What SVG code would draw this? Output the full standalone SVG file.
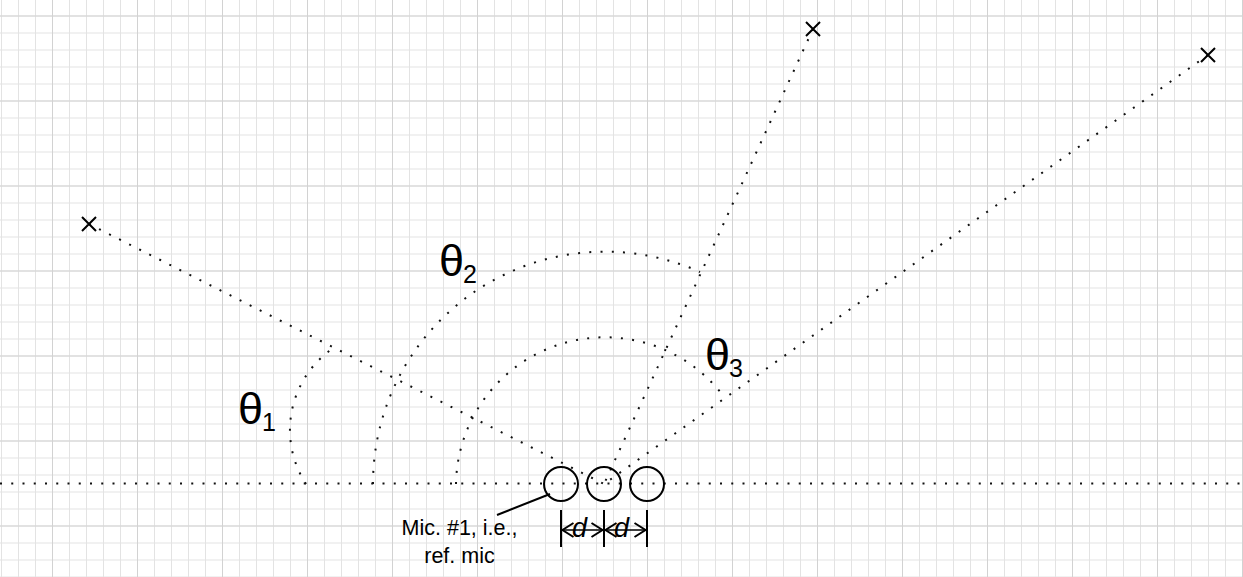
<svg xmlns="http://www.w3.org/2000/svg" width="1243" height="577" viewBox="0 0 1243 577">
<style>
.dot{fill:none;stroke:#111;stroke-width:2;stroke-dasharray:2 9.25}
.solid{fill:none;stroke:#000;stroke-width:2}
.th{font-family:"Liberation Sans",Arial,sans-serif;font-size:45px;fill:#000}
.sub{font-family:"Liberation Sans",Arial,sans-serif;font-size:25px;fill:#000}
.lbl{font-family:"Liberation Sans",Arial,sans-serif;font-size:21.5px;fill:#000;text-anchor:middle}
.dim{font-family:"Liberation Sans",Arial,sans-serif;font-size:27px;font-style:italic;fill:#000}
</style>
<defs>
<pattern id="g1" x="1" y="15.5" width="17" height="17" patternUnits="userSpaceOnUse">
<path d="M0.5 0V17M0 0.5H17" stroke="#e3e3e3" stroke-width="1" fill="none"/>
</pattern>
<pattern id="g2" x="52" y="15.5" width="85" height="85" patternUnits="userSpaceOnUse">
<path d="M0.5 0V85M0 0.5H85" stroke="#d2d2d2" stroke-width="1" fill="none"/>
</pattern>
<marker id="ah" viewBox="0 0 14 18" refX="13" refY="9" markerWidth="14" markerHeight="18" markerUnits="userSpaceOnUse" orient="auto-start-reverse">
<path d="M1.5 2L12.5 9L1.5 16" fill="none" stroke="#000" stroke-width="2"/>
</marker>
</defs>
<g id="grid" shape-rendering="crispEdges">
<rect width="1243" height="577" fill="#fff"/>
<rect width="1243" height="577" fill="url(#g1)"/>
<rect width="1243" height="577" fill="url(#g2)"/>
</g>
<g id="axis">
<path class="dot" d="M0 483.5H1240"/>
</g>
<g id="connectors">
<path class="dot" d="M89 224L604 484"/>
<path class="dot" d="M813 29L604 484"/>
<path class="dot" d="M1208 55L604 484"/>
</g>
<g id="arcs">
<path id="arc1" class="dot" d="M306 484A99 99 0 0 1 332 349"/>
<path id="arc2" class="dot" d="M373 484A232 232 0 0 1 700 272"/>
<path id="arc3" class="dot" d="M456 484A149 149 0 0 1 725 398"/>
</g>
<g id="source1"><path class="solid" d="M82 217L96 231M96 217L82 231"/></g>
<g id="source2"><path class="solid" d="M806 22L820 36M820 22L806 36"/></g>
<g id="source3"><path class="solid" d="M1201 48L1215 62M1215 48L1201 62"/></g>
<g id="mic1"><circle class="solid" cx="561" cy="484" r="17"/></g>
<g id="mic2"><circle class="solid" cx="604" cy="484" r="17"/></g>
<g id="mic3"><circle class="solid" cx="647" cy="484" r="17"/></g>
<g id="labels">
<text class="th" x="238" y="424">θ</text><text class="sub" x="262" y="431">1</text>
<text class="th" x="439" y="276">θ</text><text class="sub" x="463" y="283">2</text>
<text class="th" x="705" y="370">θ</text><text class="sub" x="729" y="377">3</text>
</g>
<g id="mic-label">
<path class="solid" d="M497 515L550 494"/>
<text class="lbl" x="459.5" y="535">Mic. #1, i.e.,</text>
<text class="lbl" x="459.5" y="563">ref. mic</text>
</g>
<g id="dimension">
<path class="solid" d="M561 510V547M604 510V547M647 510V547"/>
<path d="M562 530H603" fill="none" stroke="#000" stroke-width="1.5" marker-start="url(#ah)" marker-end="url(#ah)"/>
<path d="M605 530H646" fill="none" stroke="#000" stroke-width="1.5" marker-start="url(#ah)" marker-end="url(#ah)"/>
<text class="dim" x="572" y="537">d</text>
<text class="dim" x="614" y="537">d</text>
</g>
</svg>
